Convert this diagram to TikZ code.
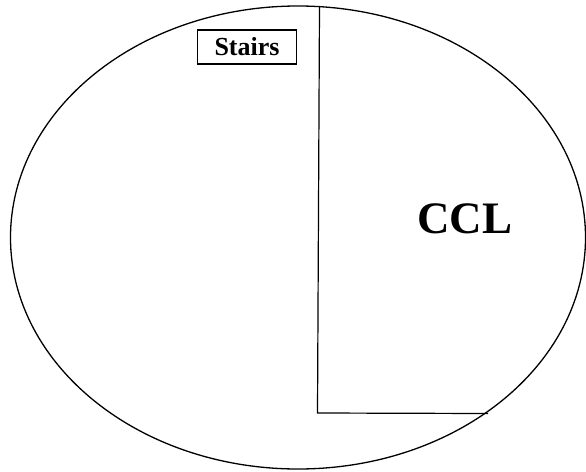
\documentclass[tikz,border=0pt]{standalone}
\usepackage{fontspec}
\setmainfont{Liberation Serif}
\begin{document}
\begin{tikzpicture}[x=1pt,y=-1pt,line width=1.2pt,
  labelbox/.style={draw,line width=1.2pt,minimum width=99pt,minimum height=34pt,inner sep=0pt,font=\bfseries\fontsize{26}{26}\selectfont},
  bigtext/.style={font=\bfseries\fontsize{45}{45}\selectfont,inner sep=0pt}]
\useasboundingbox (0,0) rectangle (586,471);
\draw[line width=1.3pt] (298,237.5) ellipse [x radius=287.5, y radius=231.5];
\coordinate (top) at (319.5,6.6);
\coordinate (corner) at (317.5,413);
\coordinate (end) at (488,413.5);
\draw (top) -- (corner) -- (end);
\node[labelbox] (stairs) at (247,47) {\raisebox{-4pt}{Stairs}};
\node[bigtext] (ccl) at (465,219) {CCL};
\end{tikzpicture}
\end{document}
